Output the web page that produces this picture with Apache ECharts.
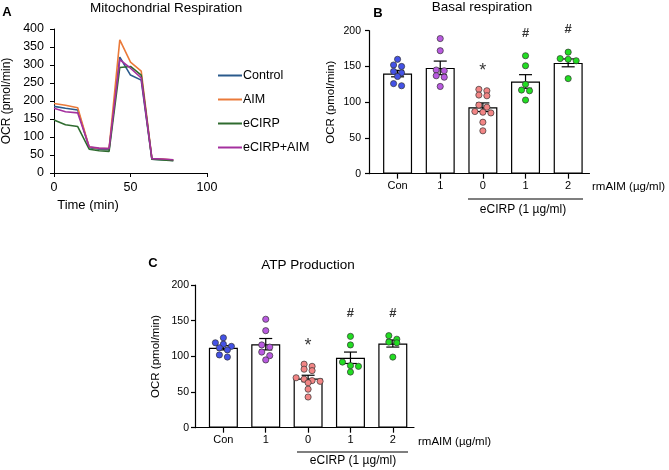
<!DOCTYPE html>
<html>
<head>
<meta charset="utf-8">
<script src="https://cdn.jsdelivr.net/npm/echarts@6/dist/echarts.min.js"></script>
<style>
  html, body { margin: 0; padding: 0; background: #fff; }
  #main { width: 669px; height: 470px; }
</style>
</head>
<body>
<div id="main"></div>
<script>
// A - mitochondrial respiration time course
const timePoints = [0, 7.5, 15.5, 23, 29.5, 36, 43, 50, 57, 64, 71, 78];
const ocrControl = [185, 180, 175, 70, 66, 65, 322, 272, 258, 38, 37, 35];
const ocrAIM = [193, 188, 181, 72, 68, 68, 370, 308, 283, 40, 39, 36];
const ocrECIRP = [147, 134, 129, 66, 62, 60, 293, 296, 272, 38, 36, 34];
const ocrECIRPAIM = [180, 170, 167, 73, 69, 68, 315, 291, 264, 40, 39, 37];
const lineNames = ['Control', 'AIM', 'eCIRP', 'eCIRP+AIM'];

// B / C - groups
const groupLabels = ['Con', '1', '0', '1', '2'];
const sigMarks = ['', '', '*', '#', '#'];

const basalMean = [140, 148, 93, 129, 155];
const basalSem = [4.5, 9.5, 6, 9.5, 5.5];
const basalDots = [
  [160, 152, 150, 143, 141, 136, 126, 123],
  [189, 172, 145, 144, 137, 135, 122],
  [118, 116, 110, 109, 96, 93, 87, 86, 85, 72, 60],
  [165, 151, 125, 117, 116, 103],
  [170, 161, 160, 158, 133]
];

const atpMean = [112, 117, 69, 98, 118];
const atpSem = [3, 8, 4.5, 8, 5];
const atpDots = [
  [126, 119, 117, 114, 112, 109, 102, 99],
  [152, 136, 116, 113, 106, 101, 95],
  [89, 86, 82, 80, 70, 68, 66, 65, 63, 54, 43],
  [128, 116, 92, 87, 86, 78],
  [129, 124, 120, 119, 99]
];

const lineColors = ['#2a5a8c', '#ea7a3a', '#2f6b2f', '#a4309e'];
const dotColors = ['#4452e6', '#b95ae0', '#f28585', '#22dd22', '#22dd22'];
const FONT = 'Liberation Sans, Arial, sans-serif';

const chart = echarts.init(document.getElementById('main'));

// grids (px)
const gridA = { left: 49, top: 29, width: 158, height: 144 };
const gridB = { left: 369, top: 30.7, width: 220.5, height: 143 };
const gridC = { left: 195, top: 285, width: 219, height: 142.7 };
const catMin = -0.67, catMax = 4.5;
const DOT = 6.2;
const STEP = 8;   // horizontal spacing of dots in a row (px)

// row-style scatter like prism: dots with close values share a row, centred
function swarm(values, kx, ky) {
  const order = values.map((v, i) => i).sort((a, b) => values[b] - values[a]);
  const out = new Array(values.length);
  const rows = [];
  order.forEach(idx => {
    const y = values[idx] * ky;
    const row = rows[rows.length - 1];
    if (row && row.y0 - y < DOT * 0.75) row.items.push(idx);
    else rows.push({ y0: y, items: [idx] });
  });
  rows.forEach(r => {
    const n = r.items.length;
    r.items.forEach((idx, j) => { out[idx] = (j - (n - 1) / 2) * STEP / kx; });
  });
  return out;
}

function groupSeries(axisIdx, grid, means, sems, dots) {
  const kx = grid.width / (catMax - catMin);
  const ky = grid.height / 200;
  const list = [];
  list.push({
    type: 'bar', xAxisIndex: axisIdx, yAxisIndex: axisIdx,
    data: means.map((m, i) => [i, m]),
    barWidth: 29,
    itemStyle: { color: '#fff', borderColor: '#000', borderWidth: 1.2 },
    z: 2
  });
  list.push({
    type: 'custom', xAxisIndex: axisIdx, yAxisIndex: axisIdx,
    data: means.map((m, i) => [i, m - sems[i], m + sems[i]]),
    encode: { x: 0, y: [1, 2] },
    renderItem(params, api) {
      const lo = api.coord([api.value(0), api.value(1)]);
      const hi = api.coord([api.value(0), api.value(2)]);
      const w = 6.5;
      const st = { stroke: '#000', lineWidth: 1.2 };
      return {
        type: 'group', children: [
          { type: 'line', shape: { x1: lo[0], y1: lo[1], x2: hi[0], y2: hi[1] }, style: st },
          { type: 'line', shape: { x1: hi[0] - w, y1: hi[1], x2: hi[0] + w, y2: hi[1] }, style: st },
          { type: 'line', shape: { x1: lo[0] - w, y1: lo[1], x2: lo[0] + w, y2: lo[1] }, style: st }
        ]
      };
    },
    z: 3
  });
  dots.forEach((vals, i) => {
    const offs = swarm(vals, kx, ky);
    list.push({
      type: 'scatter', xAxisIndex: axisIdx, yAxisIndex: axisIdx,
      data: vals.map((v, j) => [i + offs[j], v]),
      symbolSize: DOT,
      itemStyle: { color: dotColors[i], borderColor: '#333', borderWidth: 0.7, opacity: 1 },
      z: 4
    });
  });
  // significance marks, placed above each group's highest dot
  const marks = [];
  dots.forEach((vals, i) => {
    if (!sigMarks[i]) return;
    const star = sigMarks[i] === '*';
    marks.push({
      value: [i, Math.max(...vals)],
      label: {
        formatter: sigMarks[i],
        fontSize: star ? 18 : 13,
        fontWeight: star ? 'normal' : 'bold',
        fontFamily: FONT,
        offset: [0, star ? -18.5 : -22.5]
      }
    });
  });
  list.push({
    type: 'scatter', xAxisIndex: axisIdx, yAxisIndex: axisIdx,
    data: marks,
    symbolSize: 1,
    itemStyle: { color: 'rgba(0,0,0,0)' },
    label: { show: true, position: 'inside', color: '#000', fontFamily: FONT },
    z: 5
  });
  return list;
}

const catAxis = (gridIndex) => ({
  type: 'value', gridIndex, min: catMin, max: catMax,
  splitLine: { show: false },
  axisLine: { lineStyle: { color: '#000', width: 1.2 } },
  axisTick: { customValues: [0, 1, 2, 3, 4], length: 5, lineStyle: { color: '#000', width: 1.2 } },
  axisLabel: {
    customValues: [0, 1, 2, 3, 4], formatter: v => groupLabels[v],
    color: '#000', fontSize: 11, fontFamily: FONT, margin: 7
  }
});

const valAxis = (gridIndex, gap, margin) => ({
  type: 'value', gridIndex, min: 0, max: 200, interval: 50,
  name: 'OCR (pmol/min)', nameLocation: 'middle', nameGap: gap, nameRotate: 90,
  nameTextStyle: { color: '#000', fontSize: 11.5, fontFamily: FONT },
  splitLine: { show: false },
  axisLine: { show: true, onZero: false, lineStyle: { color: '#000', width: 1.2 } },
  axisTick: { show: true, length: 4, lineStyle: { color: '#000', width: 1.2 } },
  axisLabel: { color: '#000', fontSize: 10.5, fontFamily: FONT, margin }
});

const lineData = [ocrControl, ocrAIM, ocrECIRP, ocrECIRPAIM];

const series = lineData.map((vals, k) => ({
  name: lineNames[k], type: 'line', xAxisIndex: 0, yAxisIndex: 0,
  data: vals.map((v, i) => [timePoints[i], v]),
  showSymbol: false, symbol: 'none',
  lineStyle: { color: lineColors[k], width: 1.6 },
  itemStyle: { color: lineColors[k] }
}));
series.push(...groupSeries(1, gridB, basalMean, basalSem, basalDots));
series.push(...groupSeries(2, gridC, atpMean, atpSem, atpDots));

const txt = (x, y, text, size, extra) => ({
  type: 'text', x, y,
  style: Object.assign({ text, fill: '#000', font: size + 'px ' + FONT, textAlign: 'center', textVerticalAlign: 'middle' }, extra || {})
});

chart.setOption({
  animation: false,
  backgroundColor: '#fff',
  textStyle: { fontFamily: FONT },
  grid: [
    Object.assign({}, gridA),
    Object.assign({}, gridB),
    Object.assign({}, gridC)
  ],
  legend: {
    data: lineNames, orient: 'vertical', left: 218, top: 69,
    icon: 'rect', itemWidth: 24, itemHeight: 2, itemGap: 11, padding: 0,
    textStyle: { color: '#000', fontSize: 12.5, fontFamily: FONT, padding: [0, 0, 0, -4] }
  },
  xAxis: [
    {
      type: 'value', gridIndex: 0, min: 0, max: 100, interval: 50,
      splitLine: { show: false },
      axisLine: { lineStyle: { color: '#000' } },
      axisTick: { length: 4, lineStyle: { color: '#000' } },
      axisLabel: { color: '#000', fontSize: 12.5, fontFamily: FONT, margin: 8 }
    },
    catAxis(1),
    catAxis(2)
  ],
  yAxis: [
    {
      type: 'value', gridIndex: 0, min: 0, max: 400, interval: 50,
      name: 'OCR (pmol/min)', nameLocation: 'middle', nameGap: 41, nameRotate: 90,
      nameTextStyle: { color: '#000', fontSize: 12, fontFamily: FONT },
      splitLine: { show: false },
      axisLine: { show: true, onZero: false, lineStyle: { color: '#000' } },
      axisTick: { show: true, length: 4, lineStyle: { color: '#000' } },
      axisLabel: { color: '#000', fontSize: 12.5, fontFamily: FONT, margin: 10 }
    },
    valAxis(1, 32, 8),
    valAxis(2, 33, 6)
  ],
  series,
  graphic: [
    txt(7, 12.5, 'A', 13, { font: 'bold 13px ' + FONT }),
    txt(90, 8, 'Mitochondrial Respiration', 13.5, { textAlign: 'left' }),
    txt(88, 205, 'Time (min)', 13),
    txt(378, 13, 'B', 13, { font: 'bold 13px ' + FONT }),
    txt(482, 7, 'Basal respiration', 13.5),
    txt(592, 187, 'rmAIM (\u00b5g/ml)', 11.5, { textAlign: 'left' }),
    { type: 'line', shape: { x1: 468, y1: 199, x2: 583, y2: 199 }, style: { stroke: '#000', lineWidth: 1.2 } },
    txt(523, 210, 'eCIRP (1 \u00b5g/ml)', 12),
    txt(153, 263.5, 'C', 13, { font: 'bold 13px ' + FONT }),
    txt(308, 265, 'ATP Production', 13.5),
    txt(418, 442, 'rmAIM (\u00b5g/ml)', 11.5, { textAlign: 'left' }),
    { type: 'line', shape: { x1: 297, y1: 452, x2: 408, y2: 452 }, style: { stroke: '#000', lineWidth: 1.2 } },
    txt(353, 461, 'eCIRP (1 \u00b5g/ml)', 12)
  ]
});
</script>
</body>
</html>
